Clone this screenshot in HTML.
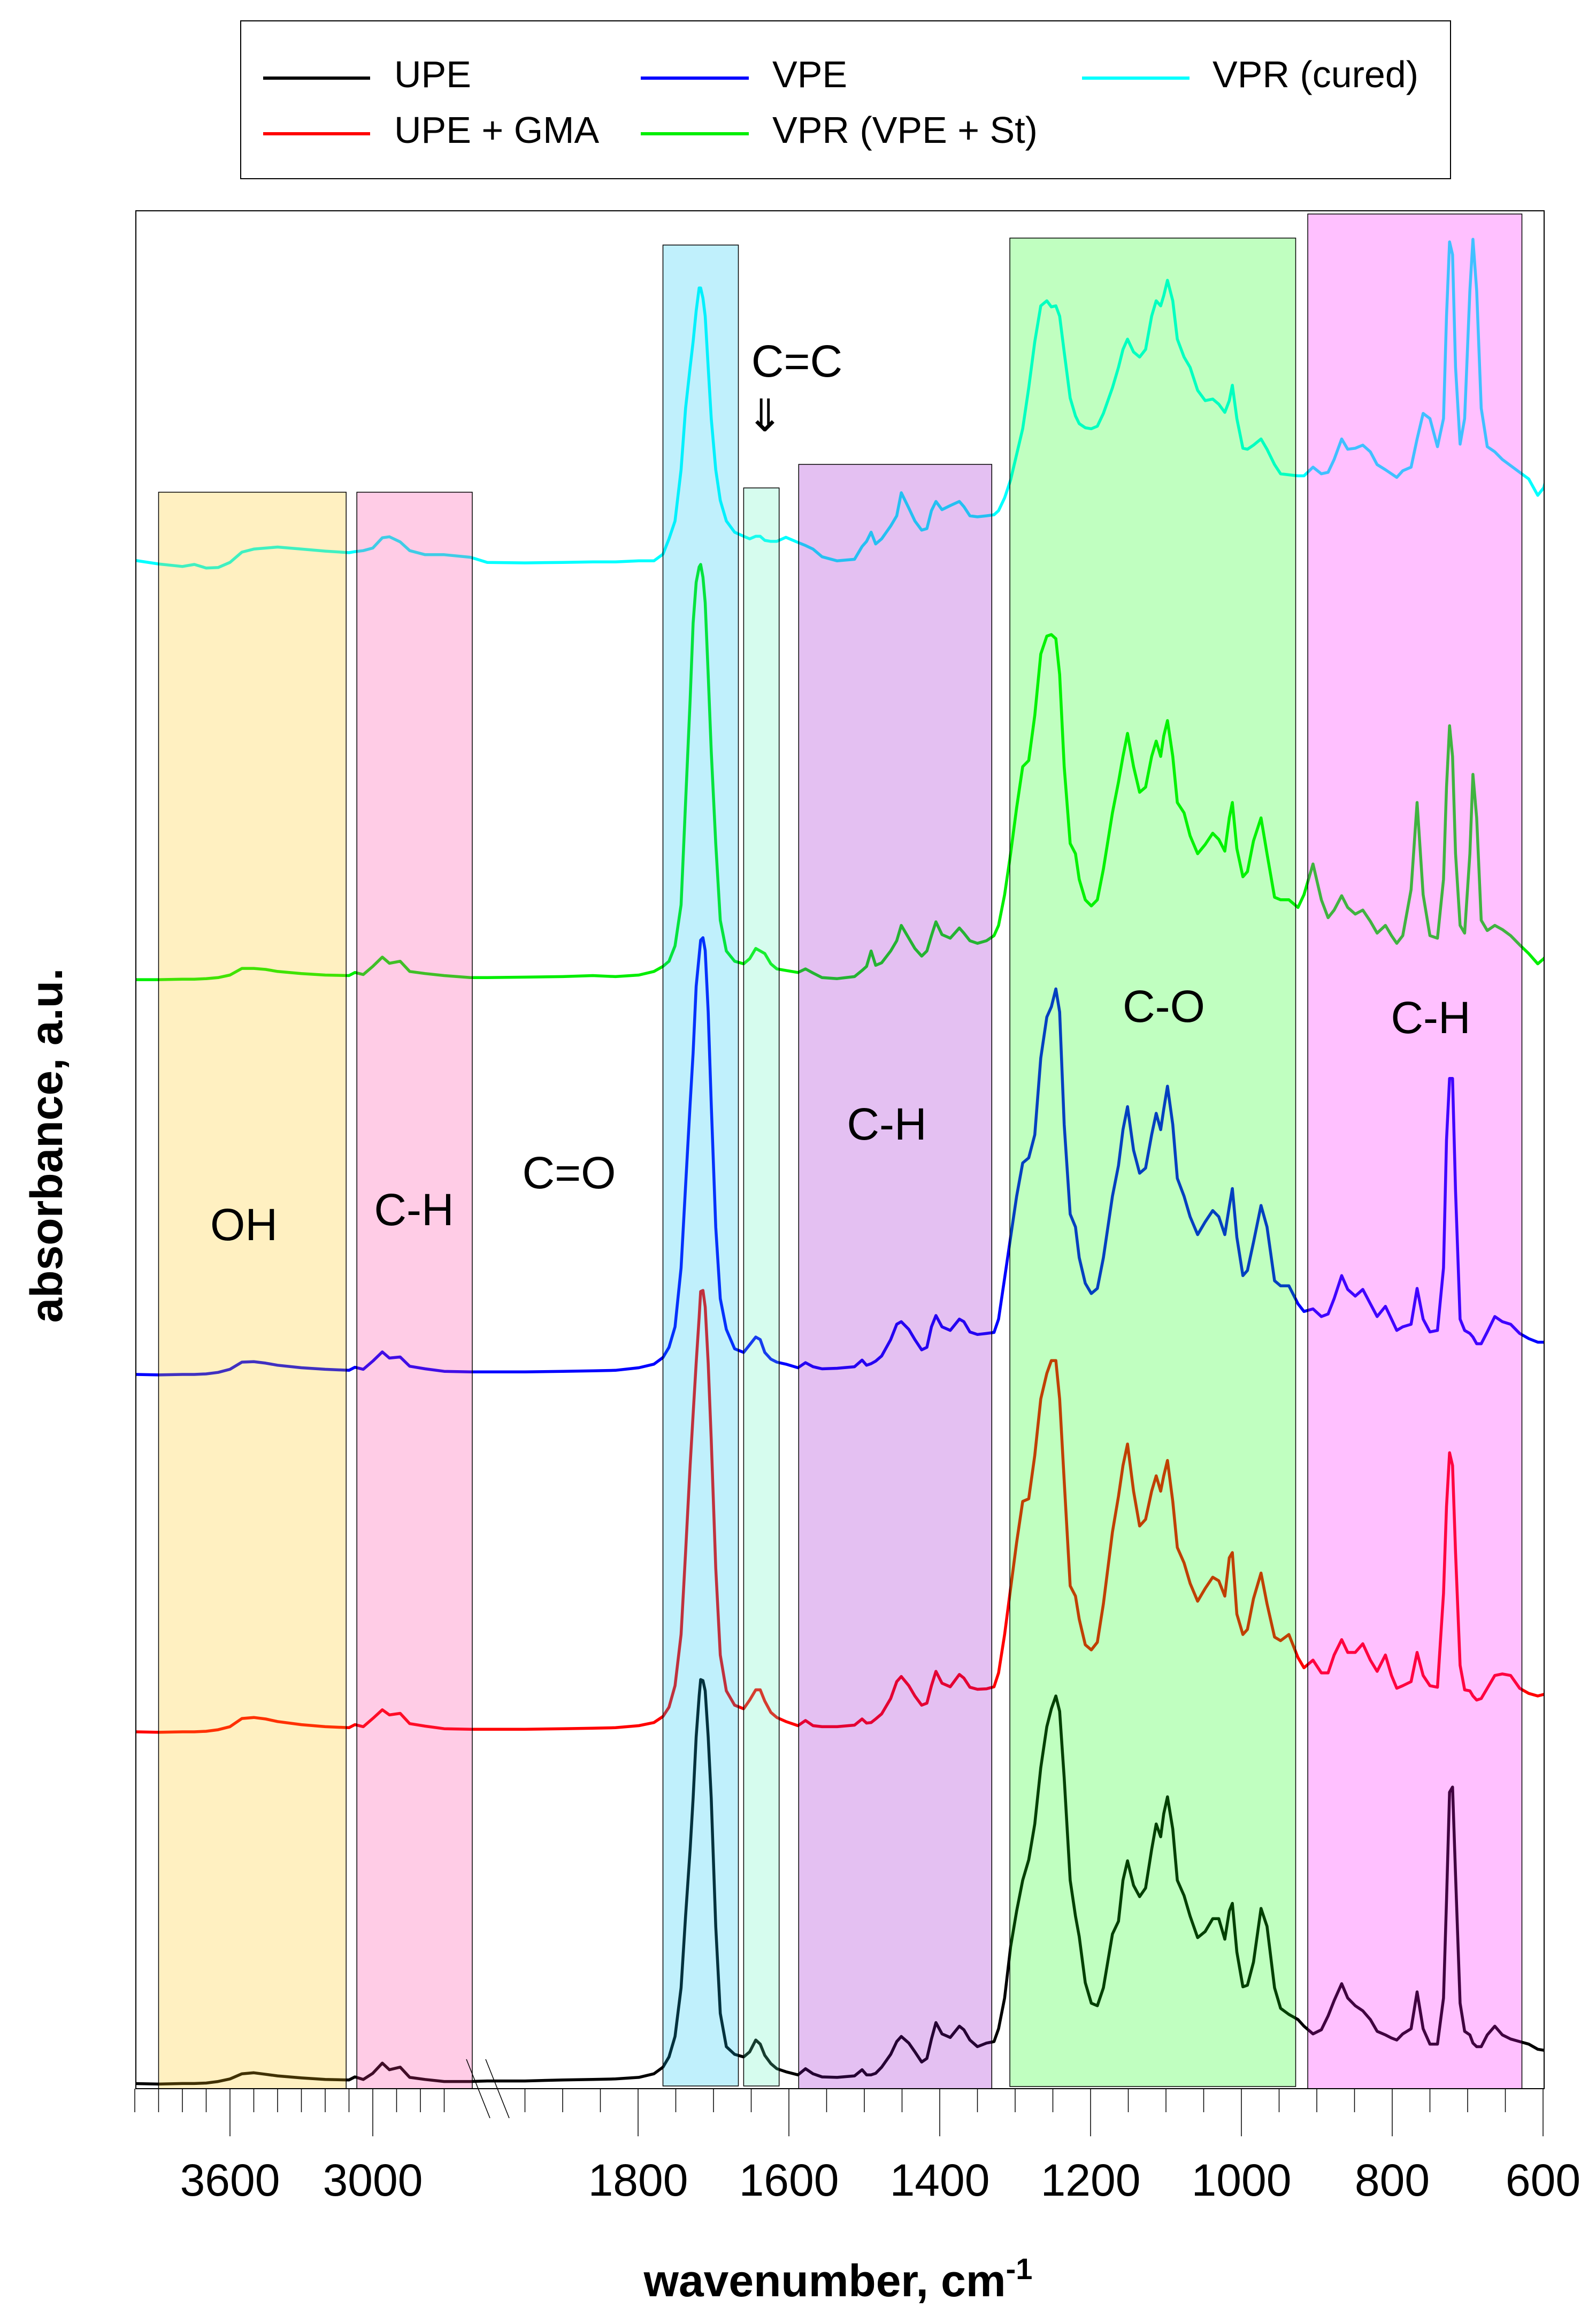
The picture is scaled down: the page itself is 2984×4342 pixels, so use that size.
<!DOCTYPE html>
<html>
<head>
<meta charset="utf-8">
<style>
  html, body { margin: 0; padding: 0; background: #ffffff; }
  svg { display: block; }
  text { font-family: "Liberation Sans", Arial, sans-serif; }
</style>
</head>
<body>
<svg id="chart" xmlns="http://www.w3.org/2000/svg" width="2984" height="4342" viewBox="0 0 2984 4342">
  <rect x="0" y="0" width="2984" height="4342" fill="#ffffff"/>
  <g id="curves"></g>
  <g id="boxes"></g>
  <rect x="254" y="394" width="2633" height="3510" fill="none" stroke="#000" stroke-width="2"/>
  <g id="axis"></g>

  <line x1="872" y1="3849" x2="916" y2="3959" stroke="#000" stroke-width="1.5"/>
  <line x1="908" y1="3849" x2="952" y2="3959" stroke="#000" stroke-width="1.5"/>

  <text x="456" y="2318" font-size="84" text-anchor="middle">OH</text>
  <text x="774" y="2290" font-size="84" text-anchor="middle">C-H</text>
  <text x="1064" y="2221" font-size="84" text-anchor="middle">C=O</text>
  <text x="1658" y="2130" font-size="84" text-anchor="middle">C-H</text>
  <text x="2176" y="1910" font-size="84" text-anchor="middle">C-O</text>
  <text x="2675" y="1931" font-size="84" text-anchor="middle">C-H</text>
  <text x="1490" y="704" font-size="84" text-anchor="middle">C=C</text>
  <text x="1430" y="806" font-size="84" text-anchor="middle">⇓</text>

  <text transform="translate(116,2141) rotate(-90)" font-size="84" font-weight="bold" text-anchor="middle">absorbance, a.u.</text>
  <text x="1567" y="4292" font-size="84" font-weight="bold" text-anchor="middle">wavenumber, cm<tspan dy="-32" font-size="56">-1</tspan></text>

  <g>
    <rect x="450" y="39" width="2262" height="295" fill="#fff" stroke="#000" stroke-width="2"/>
    <line x1="492" y1="146" x2="692" y2="146" stroke="#000000" stroke-width="6"/>
    <text x="737" y="163" font-size="70">UPE</text>
    <line x1="1198" y1="146" x2="1400" y2="146" stroke="#0000ff" stroke-width="6"/>
    <text x="1444" y="163" font-size="70">VPE</text>
    <line x1="2023" y1="146" x2="2224" y2="146" stroke="#00ffff" stroke-width="6"/>
    <text x="2267" y="163" font-size="70">VPR (cured)</text>
    <line x1="492" y1="250" x2="692" y2="250" stroke="#ff0000" stroke-width="6"/>
    <text x="737" y="267" font-size="70">UPE + GMA</text>
    <line x1="1198" y1="250" x2="1400" y2="250" stroke="#00ee00" stroke-width="6"/>
    <text x="1444" y="267" font-size="70">VPR (VPE + St)</text>
  </g>
</svg>

<script>
const waveLeft = [4000,3900,3800,3750,3700,3650,3600,3550,3500,3450,3400,3300,3200,3100,3075,3040,3000,2960,2930,2885,2845,2780,2700,2590,2000,1950,1900,1860];
const waveRight = [
1830,1799,1779,1767,1759,1751,1743,1737,1731,1727,
1723,1719,1717,1714,1711,1707,1703,1697,1691,1683,
1672,1660,1652,1644,1638,1632,1624,1616,1604,1588,
1578,1568,1556,1536,1513,1503,1497,1491,1485,1477,
1465,1457,1451,1441,1433,1424,1417,1411,1405,1397,
1386,1374,1368,1360,1350,1338,1328,1322,1314,1306,
1298,1290,1282,1274,1266,1258,1252,1246,1241,1235,
1227,1220,1215,1207,1199,1191,1183,1171,1163,1157,
1151,1143,1135,1127,1119,1113,1107,1103,1098,1091,
1085,1076,1068,1058,1048,1038,1030,1022,1016,1012,
1006,998,992,984,974,966,956,948,937,925,
917,905,894,885,877,867,859,849,839,829,
820,809,801,794,786,775,767,759,750,740,
732,728,724,720,716,710,704,697,693,688,
682,674,664,654,643,631,619,607,599,591];

const upeLeft = [-9,-10,-9,-9,-8,-5,0,10,12,9,6,2,-1,-2,4,-1,11,31,18,23,3,-1,-5,-5,-4,-4,-2,-1];
const upeRight = [
0,3,10,23,43,83,178,318,448,548,
668,748,780,778,758,668,548,298,128,63,
48,43,53,76,68,46,30,20,14,8,
20,10,4,3,6,18,8,8,11,23,
48,73,83,70,53,33,40,78,110,88,
81,103,96,76,63,70,73,98,158,258,
328,388,428,498,608,688,723,748,718,588,
388,318,278,188,148,143,178,283,308,388,
426,378,356,373,448,498,473,518,551,488,
388,358,318,276,288,313,313,273,328,343,
248,180,183,228,333,298,178,138,126,116,
103,88,96,123,153,186,158,143,133,116,
93,86,80,76,88,98,170,98,68,68,
158,348,560,570,398,148,93,86,70,63,
63,86,103,86,78,73,68,58,56,58];

const gmaLeft = [-8,-9,-8,-8,-7,-4,2,18,20,17,12,6,2,0,6,2,18,35,25,28,8,3,-2,-3,-3,-3,-2,-1];
const gmaRight = [
0,4,10,22,40,82,182,342,512,612,
712,802,852,854,822,712,562,312,142,72,
44,37,54,74,74,52,30,20,12,4,
14,4,2,2,5,17,9,10,17,27,
57,90,100,82,62,44,48,82,110,87,
80,104,97,79,75,76,80,107,182,272,
362,442,447,532,642,692,717,717,642,482,
277,257,212,162,152,167,242,382,452,512,
554,462,394,407,462,492,462,492,522,442,
352,322,282,247,272,294,287,257,332,342,
222,182,192,252,302,242,177,170,182,137,
117,132,107,107,142,172,147,147,164,132,
110,142,102,77,82,90,147,102,82,79,
262,432,537,512,342,122,74,72,62,54,
57,77,102,105,102,77,67,62,65,67];

const vpeLeft = [-8,-9,-8,-8,-7,-4,2,16,17,14,10,5,2,0,6,2,18,36,24,26,8,3,-2,-3,-3,-3,-2,-1];
const vpeRight = [
0,5,12,25,45,85,200,360,520,620,
750,810,840,845,820,700,520,280,140,80,
42,35,50,65,60,35,22,16,12,5,
15,7,3,4,7,20,10,13,18,28,
60,90,95,80,60,40,45,85,107,85,
78,100,95,75,70,72,74,100,180,260,
340,405,415,460,610,690,710,745,700,480,
305,280,220,170,150,160,220,340,400,470,
515,430,385,395,460,502,470,510,555,480,
375,340,300,265,290,312,300,265,320,355,
260,185,195,250,322,280,175,165,165,130,
115,120,105,110,140,185,158,145,158,130,
105,125,100,78,85,90,160,100,75,78,
200,450,570,570,350,100,78,72,65,52,
52,75,105,95,90,72,62,55,55,57];

const vprLeft = [-6,-6,-5,-5,-4,-2,3,16,16,14,10,6,3,2,8,4,20,38,26,30,10,6,2,-2,-2,-1,0,2];
const vprRight = [
0,3,10,20,30,60,140,340,540,690,
770,800,805,780,730,590,440,260,110,50,
30,25,35,55,50,45,25,15,12,8,
15,7,-2,-4,0,12,20,50,22,27,
50,70,100,75,55,40,50,80,107,82,
75,95,85,70,65,70,80,100,160,240,
330,410,422,510,630,665,668,660,590,410,
260,240,190,150,138,150,210,320,380,430,
475,410,360,370,430,460,430,470,500,430,
340,320,275,240,258,280,268,245,310,340,
250,195,205,265,310,240,155,150,150,135,
160,220,150,115,130,158,135,122,130,108,
85,100,80,65,80,170,340,160,80,75,
190,370,490,430,240,100,85,240,395,310,
110,90,100,92,80,62,45,25,35,50];

const curedLeft = [3,-4,-9,-5,-12,-11,-1,19,25,27,29,25,21,18,20,22,27,47,49,39,22,14,14,9,-1,-2,-1,0];
const curedRight = [
0,2,2,15,45,80,180,300,380,430,
490,535,535,515,480,380,280,180,120,80,
58,50,45,50,50,42,40,40,48,38,
32,25,10,2,5,30,40,58,35,45,
70,90,135,105,80,62,65,100,118,102,
110,118,108,90,88,90,92,100,125,160,
210,260,340,430,500,510,498,500,480,410,
320,285,270,262,260,265,290,340,380,415,
435,410,400,415,480,510,500,520,550,510,
435,400,380,335,315,318,308,292,315,345,
280,222,220,228,240,220,190,172,170,168,
168,185,172,175,200,240,220,222,228,215,
190,180,172,165,178,185,240,290,280,225,
280,480,625,600,380,230,280,530,630,530,
300,225,215,200,188,175,162,130,145,190];

const seriesNames = ["VPR (cured)", "VPR (VPE + St)", "VPE", "UPE + GMA", "UPE"];
const seriesOffsets = [2.982, 2.172, 1.403, 0.705, 0.019];
const seriesColors = ["#00ffff", "#00ee00", "#0000ff", "#ff0000", "#000000"];

const tickLabels = [3600, 3000, 1800, 1600, 1400, 1200, 1000, 800, 600];
const minorLeft = [3900,3800,3700,3500,3400,3300,3200,3100,2900,2800,2700];
const minorRight = [1950,1900,1850,1750,1700,1650,1550,1500,1450,1350,1300,1250,1150,1100,1050,950,900,850,750,700,650];

const bandStart = [3900, 3067, 1767, 1660, 1587, 1307, 912];
const bandEnd   = [3112, 2582, 1667, 1613, 1331, 928, 628];

function xScale(w) {
  if (w >= 2500) return 430 + (3600 - w) * 0.445;
  return 1193 + (1800 - w) * 1.41;
}
function yScale(a) { return 3904 - a * 957; }

const NS = "http://www.w3.org/2000/svg";
const curves = document.getElementById("curves");
const waves = waveLeft.concat(waveRight);
const allVals = [
  curedLeft.concat(curedRight),
  vprLeft.concat(vprRight),
  vpeLeft.concat(vpeRight),
  gmaLeft.concat(gmaRight),
  upeLeft.concat(upeRight)
];
const slugs = ["vpr-cured", "vpr-vpe-st", "vpe", "upe-gma", "upe"];

const defs = document.createElementNS(NS, "defs");
const cp = document.createElementNS(NS, "clipPath");
cp.setAttribute("id", "plotclip");
const cr = document.createElementNS(NS, "rect");
cr.setAttribute("x", 254); cr.setAttribute("y", 394);
cr.setAttribute("width", 2633); cr.setAttribute("height", 3510);
cp.appendChild(cr); defs.appendChild(cp);
document.getElementById("chart").insertBefore(defs, curves);
curves.setAttribute("clip-path", "url(#plotclip)");

for (let s = 0; s < allVals.length; s++) {
  const vals = allVals[s];
  const n = Math.min(vals.length, waves.length);
  let d = "";
  for (let i = 0; i < n; i++) {
    const x = xScale(waves[i]);
    const y = yScale(seriesOffsets[s] + vals[i] / 1000);
    d += (i === 0 ? "M" : "L") + x.toFixed(1) + "," + y.toFixed(1);
  }
  const p = document.createElementNS(NS, "path");
  p.setAttribute("d", d);
  p.setAttribute("fill", "none");
  p.setAttribute("stroke", seriesColors[s]);
  p.setAttribute("stroke-width", "5.5");
  p.setAttribute("stroke-linejoin", "round");
  p.setAttribute("stroke-linecap", "round");
  
  
  curves.appendChild(p);
}

const bandFill = ["rgba(255,196,6,0.25)", "rgba(255,52,156,0.25)", "rgba(4,196,244,0.25)", "rgba(92,244,188,0.25)", "rgba(148,4,204,0.25)", "rgba(4,255,4,0.25)", "rgba(255,4,255,0.25)"];
const bandTop = [920, 920, 458, 912, 868, 445, 400];
const bandBottom = [3904, 3904, 3899, 3899, 3904, 3900, 3904];
const bandSlugs = ["oh-band", "ch-stretch-band", "carbonyl-band", "cc-band", "ch-bend-band", "co-band", "ch-oop-band"];
const boxes = document.getElementById("boxes");
for (let b = 0; b < bandStart.length; b++) {
  const x1 = xScale(bandStart[b]), x2 = xScale(bandEnd[b]);
  const r = document.createElementNS(NS, "rect");
  r.setAttribute("x", Math.min(x1, x2).toFixed(1));
  r.setAttribute("y", bandTop[b]);
  r.setAttribute("width", Math.abs(x2 - x1).toFixed(1));
  r.setAttribute("height", bandBottom[b] - bandTop[b]);
  r.setAttribute("fill", bandFill[b]);
  r.setAttribute("stroke", "#000");
  r.setAttribute("stroke-width", "1.5");
  
  
  boxes.appendChild(r);
}

const axis = document.getElementById("axis");
function tick(w, len, name) {
  const x = xScale(w);
  const l = document.createElementNS(NS, "line");
  l.setAttribute("x1", x.toFixed(1)); l.setAttribute("x2", x.toFixed(1));
  l.setAttribute("y1", 3904); l.setAttribute("y2", 3904 + len);
  l.setAttribute("stroke", "#000"); l.setAttribute("stroke-width", "1.5");
  
  
  axis.appendChild(l);
}
tick(4000, 44, "x-tick-4000");
minorLeft.forEach(w => tick(w, 44, "x-minor-tick-" + w));
minorRight.forEach(w => tick(w, 44, "x-minor-tick-" + w));
tickLabels.forEach(w => {
  tick(w, 89, "x-major-tick-" + w);
  const t = document.createElementNS(NS, "text");
  t.setAttribute("x", xScale(w).toFixed(1));
  t.setAttribute("y", 4104);
  t.setAttribute("font-size", "84");
  t.setAttribute("text-anchor", "middle");
  t.textContent = String(w);
  
  
  axis.appendChild(t);
});
</script>
</body>
</html>
